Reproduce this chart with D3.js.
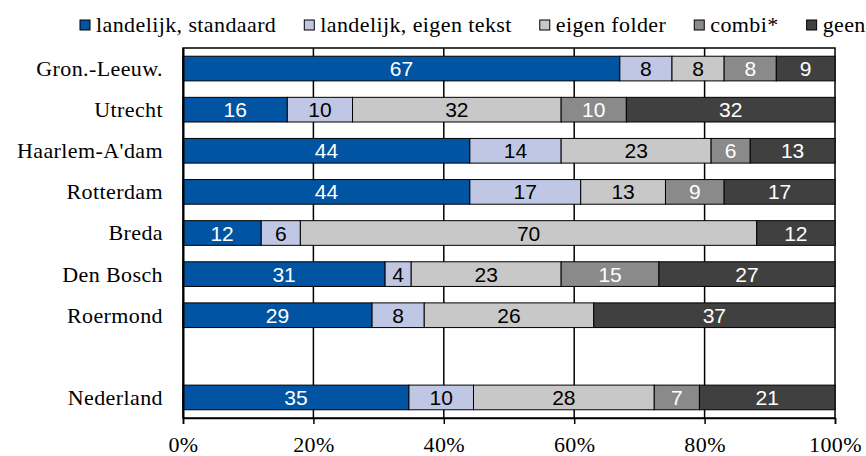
<!DOCTYPE html>
<html>
<head>
<meta charset="utf-8">
<script src="https://cdn.jsdelivr.net/npm/d3@7"></script>
<style>
  html, body { margin: 0; padding: 0; background: #fff; }
  svg { display: block; }
  #chart text { font-family: "Liberation Serif", "Times New Roman", serif; font-size: 22px; letter-spacing: 0.4px; fill: #000; }
  #chart text.val { font-family: "Liberation Sans", Arial, sans-serif; font-size: 21px; letter-spacing: 0; }
  #chart text.val.light { fill: #fff; }
</style>
</head>
<body>
<svg id="chart" width="866" height="456"></svg>
<script>
const categories = ["Gron.-Leeuw.", "Utrecht", "Haarlem-A'dam", "Rotterdam", "Breda", "Den Bosch", "Roermond", "Nederland"];
// the empty row sits before this category
const gapBefore = "Nederland";

const seriesNames = ["landelijk, standaard", "landelijk, eigen tekst", "eigen folder", "combi*", "geen"];
const standaard   = [67, 16, 44, 44, 12, 31, 29, 35];
const eigenTekst  = [8, 10, 14, 17, 6, 4, 8, 10];
const eigenFolder = [8, 32, 23, 13, 70, 23, 26, 28];
const combi       = [8, 10, 6, 9, 0, 15, 0, 7];
const geen        = [9, 32, 13, 17, 12, 27, 37, 21];

const tickValues = [0, 0.2, 0.4, 0.6, 0.8, 1];

const colors = ["#0054a2", "#c0c7e4", "#c8c8c8", "#8a8a8a", "#404040"];
const lightLabel = [true, false, false, true, true];

const margin = { top: 48, right: 31, bottom: 38, left: 183 };
const width = 866, height = 456;

const svg = d3.select("#chart");

// rows normalised to 100%, like a 100% stacked bar
const rows = categories.map((name, i) => {
  const row = { name };
  const vals = [standaard[i], eigenTekst[i], eigenFolder[i], combi[i], geen[i]];
  const total = d3.sum(vals);
  seriesNames.forEach((s, j) => { row[s] = vals[j] / total; row[s + "_raw"] = vals[j]; });
  return row;
});

const domain = [];
categories.forEach((c) => {
  if (c === gapBefore) domain.push(" ");
  domain.push(c);
});

const x = d3.scaleLinear().domain([0, 1]).range([margin.left, width - margin.right]);
const y = d3.scaleBand().domain(domain)
  .range([margin.top, height - margin.bottom])
  .paddingInner(0.4).paddingOuter(0.2);

const stacked = d3.stack().keys(seriesNames)(rows);

// gridlines
svg.append("g")
  .selectAll("line")
  .data(tickValues.slice(1, -1))
  .join("line")
  .attr("x1", (d) => x(d)).attr("x2", (d) => x(d))
  .attr("y1", margin.top).attr("y2", height - margin.bottom)
  .attr("stroke", "#000").attr("stroke-width", 1.5);

// plot border
svg.append("rect")
  .attr("x", x(0)).attr("y", margin.top)
  .attr("width", x(1) - x(0)).attr("height", height - margin.bottom - margin.top)
  .attr("fill", "none").attr("stroke", "#000").attr("stroke-width", 1.5);

// bars
svg.append("g")
  .selectAll("g")
  .data(stacked)
  .join("g")
  .attr("fill", (d, i) => colors[i])
  .selectAll("rect")
  .data((d) => d.filter((p) => p[1] - p[0] > 0))
  .join("rect")
  .attr("x", (d) => x(d[0]))
  .attr("y", (d) => y(d.data.name))
  .attr("width", (d) => x(d[1]) - x(d[0]))
  .attr("height", y.bandwidth())
  .attr("stroke", "#000")
  .attr("stroke-width", 1);

// value labels
stacked.forEach((layer, i) => {
  svg.append("g")
    .selectAll("text")
    .data(layer.filter((d) => d.data[layer.key + "_raw"] > 0))
    .join("text")
    .attr("class", lightLabel[i] ? "val light" : "val")
    .attr("x", (d) => (x(d[0]) + x(d[1])) / 2)
    .attr("y", (d) => y(d.data.name) + y.bandwidth() / 2)
    .attr("dy", "0.36em")
    .attr("text-anchor", "middle")
    .text((d) => d.data[layer.key + "_raw"]);
});

// y axis
const yAxis = svg.append("g")
  .attr("transform", `translate(${margin.left},0)`)
  .call(d3.axisLeft(y).tickSize(0).tickPadding(20));
yAxis.select(".domain").attr("stroke", "#000").attr("stroke-width", 2);
yAxis.selectAll("text").attr("fill", null).attr("dy", "0.34em");

// x axis
const xAxis = svg.append("g")
  .attr("transform", `translate(0,${height - margin.bottom})`)
  .call(d3.axisBottom(x).tickValues(tickValues).tickFormat(d3.format(".0%")).tickSize(6).tickPadding(12));
xAxis.select(".domain").attr("stroke", "#000").attr("stroke-width", 1.5);
xAxis.selectAll(".tick line").attr("stroke", "#000").attr("stroke-width", 1.5);
xAxis.selectAll("text").attr("fill", null);

// legend
const legend = svg.append("g").attr("transform", "translate(80,20)");
let lx = 0;
seriesNames.forEach((name, i) => {
  const g = legend.append("g").attr("transform", `translate(${lx},0)`);
  g.append("rect")
    .attr("width", 10).attr("height", 10)
    .attr("fill", colors[i]).attr("stroke", "#000").attr("stroke-width", 1);
  const t = g.append("text")
    .attr("x", 16).attr("y", 5).attr("dy", "0.34em")
    .text(name);
  lx += 16 + t.node().getComputedTextLength() + 28;
});
</script>
</body>
</html>
